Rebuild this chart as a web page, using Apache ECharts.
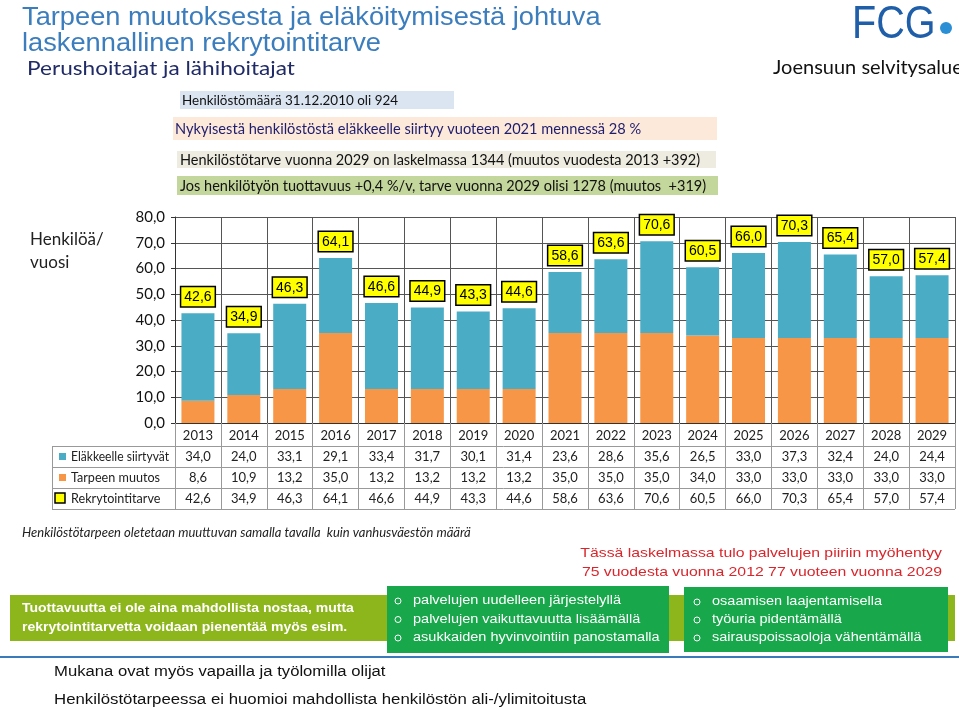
<!DOCTYPE html>
<html>
<head>
<meta charset="utf-8">
<script src="https://cdn.jsdelivr.net/npm/echarts@6/dist/echarts.min.js"></script>
<style>
html,body{margin:0;padding:0;background:#fff;}
#c{width:959px;height:708px;}
</style>
</head>
<body>
<div id="c"></div>
<script>
// ---- data ----
const years = ['2013','2014','2015','2016','2017','2018','2019','2020','2021','2022','2023','2024','2025','2026','2027','2028','2029'];
const retiring = [34.0,24.0,33.1,29.1,33.4,31.7,30.1,31.4,23.6,28.6,35.6,26.5,33.0,37.3,32.4,24.0,24.4];
const needChange = [8.6,10.9,13.2,35.0,13.2,13.2,13.2,13.2,35.0,35.0,35.0,34.0,33.0,33.0,33.0,33.0,33.0];
const recruit = [42.6,34.9,46.3,64.1,46.6,44.9,43.3,44.6,58.6,63.6,70.6,60.5,66.0,70.3,65.4,57.0,57.4];
const seriesNames = ['Eläkkeelle siirtyvät','Tarpeen muutos','Rekrytointitarve'];
const yTicks = {min:0, max:80, interval:10};

const BLUE = '#4BACC6', ORANGE = '#F79646', YELLOW = '#FFFF00';
const fmt = v => v.toFixed(1).replace('.', ',');

function T(text, x, y, font, fill, align, sx) {
  return {type:'text', silent:true, z:10, x, y, scaleX:sx||1, style:{text, x:0, y:0, font, fill:fill||'#111',
    textAlign:align||'left', align:align||'left', textVerticalAlign:'middle', verticalAlign:'middle'}};
}
function R(x, y, w, h, fill, stroke, lw) {
  return {type:'rect', silent:true, z:5, shape:{x, y, width:w, height:h},
    style:{fill:fill||'none', stroke:stroke||null, lineWidth:lw||0}};
}
function L(x1, y1, x2, y2, color, lw) {
  return {type:'line', silent:true, z:6, shape:{x1, y1, x2, y2}, style:{stroke:color, lineWidth:lw||1}};
}
function C(cx, cy, r) {
  return {type:'circle', silent:true, z:12, shape:{cx, cy, r}, style:{fill:'none', stroke:'#fff', lineWidth:1}};
}

const AR = '"Liberation Sans"';
const graphics = [
  // titles
  T('Tarpeen muutoksesta ja eläköitymisestä johtuva', 22, 18, '25px ' + AR, '#3b7dbd', 'left', 1.09),
  T('laskennallinen rekrytointitarve', 22, 44, '25px ' + AR, '#3b7dbd', 'left', 1.09),
  T('Perushoitajat ja lähihoitajat', 27, 69, '20px Lato', '#1f2a66', 'left', 1.13),
  // logo
  {type:'text', silent:true, z:10, x:852, y:2, scaleX:0.86, style:{text:'FCG', x:0, y:0, font:'46px ' + AR, fill:'#1f5ea8', textVerticalAlign:'top', verticalAlign:'top'}},
  {type:'circle', silent:true, z:10, shape:{cx:946, cy:28, r:6}, style:{fill:'#2b8fd5'}},
  T('Joensuun selvitysalue', 773, 68, '20px Lato', '#111'),
  // header boxes
  R(180, 91, 274, 18, '#dbe5f1'),
  T('Henkilöstömäärä 31.12.2010 oli 924', 182, 100, '14px Lato', '#111', 'left', 0.96),
  R(173, 117, 544, 23, '#fde9d9'),
  T('Nykyisestä henkilöstöstä eläkkeelle siirtyy vuoteen 2021 mennessä 28 %', 175, 129, '15px Lato', '#1f1d6e', 'left', 0.975),
  R(177, 151, 539, 17, '#eeece1'),
  T('Henkilöstötarve vuonna 2029 on laskelmassa 1344 (muutos vuodesta 2013 +392)', 180, 160, '14.5px Lato', '#111'),
  R(177, 176, 541, 19, '#c3d69b'),
  T('Jos henkilötyön tuottavuus +0,4 %/v, tarve vuonna 2029 olisi 1278 (muutos  +319)', 180, 186, '14.5px Lato', '#111'),
  // y axis title
  T('Henkilöä/', 30, 240, '17px Lato', '#222'),
  T('vuosi', 30, 263, '17px Lato', '#222'),
  // table lines
  L(52, 446.5, 955, 446.5, '#999'),
  L(52, 467.5, 955, 467.5, '#999'),
  L(52, 488.5, 955, 488.5, '#999'),
  L(52, 509.5, 955, 509.5, '#999'),
  L(52.5, 446, 52.5, 510, '#999'),
  // table left column
  R(59, 453, 7, 7, BLUE),
  T(seriesNames[0], 71, 457, '13px Lato', '#222', 'left', 0.93),
  R(59, 474, 7, 7, ORANGE),
  T(seriesNames[1], 71, 478, '13px Lato', '#222', 'left', 0.97),
  R(55, 493, 10, 10, YELLOW, '#000', 1.5),
  T(seriesNames[2], 71, 498.5, '13px Lato', '#222', 'left', 0.97),
  // notes
  T('Henkilöstötarpeen oletetaan muuttuvan samalla tavalla  kuin vanhusväestön määrä', 22, 533, 'italic 13px Lato', '#222'),
  T('Tässä laskelmassa tulo palvelujen piiriin myöhentyy', 942, 553, '13.5px ' + AR, '#d9262c', 'right', 1.17),
  T('75 vuodesta vuonna 2012 77 vuoteen vuonna 2029', 942, 572, '13.5px ' + AR, '#d9262c', 'right', 1.17),
  // olive band
  R(10, 595, 945, 46, '#8db51c'),
  T('Tuottavuutta ei ole aina mahdollista nostaa, mutta', 22, 609, 'bold 12.5px ' + AR, '#fff', 'left', 1.12),
  T('rekrytointitarvetta voidaan pienentää myös esim.', 22, 628, 'bold 12.5px ' + AR, '#fff', 'left', 1.12),
  // green boxes
  Object.assign(R(387, 586, 282, 67, '#19a74c'), {z:8}),
  C(398, 601, 3), C(398, 619.5, 3), C(398, 638, 3),
  T('palvelujen uudelleen järjestelyllä', 413, 601, '12.5px ' + AR, '#fff', 'left', 1.16),
  T('palvelujen vaikuttavuutta lisäämällä', 413, 619.5, '12.5px ' + AR, '#fff', 'left', 1.16),
  T('asukkaiden hyvinvointiin panostamalla', 413, 638, '12.5px ' + AR, '#fff', 'left', 1.16),
  Object.assign(R(684, 587, 264, 65, '#19a74c'), {z:8}),
  C(697, 602, 3), C(697, 620, 3), C(697, 638, 3),
  T('osaamisen laajentamisella', 712, 602, '12.5px ' + AR, '#fff', 'left', 1.16),
  T('työuria pidentämällä', 712, 620, '12.5px ' + AR, '#fff', 'left', 1.16),
  T('sairauspoissaoloja vähentämällä', 712, 638, '12.5px ' + AR, '#fff', 'left', 1.16),
  // separator
  L(0, 657, 959, 657, '#3a7ab8', 2),
  T('Mukana ovat myös vapailla ja työlomilla olijat', 54, 672, '14px ' + AR, '#111', 'left', 1.19),
  T('Henkilöstötarpeessa ei huomioi mahdollista henkilöstön ali-/ylimitoitusta', 54, 700, '14px ' + AR, '#111', 'left', 1.2)
];

const chart = echarts.init(document.getElementById('c'), null, {renderer:'canvas'});
chart.setOption({
  backgroundColor:'#fff',
  animation:false,
  grid:{left:175, right:4, top:217, bottom:285, containLabel:false},
  xAxis:{
    type:'category', data:years, boundaryGap:true,
    axisLine:{show:true, lineStyle:{color:'#333', width:1}},
    axisTick:{show:true, length:86, lineStyle:{color:'#999'}},
    splitLine:{show:true, lineStyle:{color:'#555', width:1}},
    axisLabel:{
      margin:2, interval:0,
      formatter:(v, i) => `{y|${v}}\n{v|${fmt(retiring[i])}}\n{v|${fmt(needChange[i])}}\n{v|${fmt(recruit[i])}}`,
      rich:{
        y:{fontFamily:'Lato', fontSize:13, lineHeight:21, color:'#222'},
        v:{fontFamily:'Lato', fontSize:13, lineHeight:21, color:'#222'}
      }
    }
  },
  yAxis:{
    type:'value', min:yTicks.min, max:yTicks.max, interval:yTicks.interval,
    axisLine:{show:true, lineStyle:{color:'#333'}},
    axisTick:{show:true, length:4, lineStyle:{color:'#333'}},
    splitLine:{show:true, lineStyle:{color:'#555', width:1}},
    axisLabel:{formatter:v => fmt(v), fontFamily:'Lato', fontSize:15, color:'#111', margin:10}
  },
  series:[
    {
      name:seriesNames[1], type:'bar', stack:'a', data:needChange, barWidth:33,
      itemStyle:{color:ORANGE}
    },
    {
      name:seriesNames[0], type:'bar', stack:'a', data:retiring, barWidth:33,
      itemStyle:{color:BLUE},
      label:{
        show:true, position:'top', distance:7,
        formatter:p => fmt(recruit[p.dataIndex]),
        backgroundColor:YELLOW, borderColor:'#000', borderWidth:1.5,
        padding:[2,3,1,3], color:'#000', fontSize:14, lineHeight:16,
        fontFamily:AR
      }
    }
  ],
  graphic:graphics
});
</script>
</body>
</html>
